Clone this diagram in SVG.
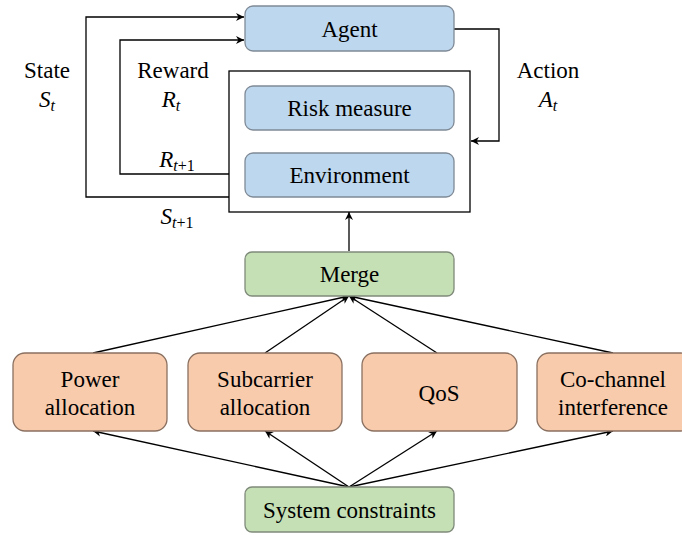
<svg xmlns="http://www.w3.org/2000/svg" width="682" height="535" viewBox="0 0 682 535">
<style>
.t{font-family:"Liberation Serif","Times New Roman",Times,"DejaVu Serif",serif;font-size:23px;fill:#000;text-anchor:middle}
.s{font-size:16px}
.blue{fill:#bdd7ee;stroke:#7f8a96;stroke-width:1.3}
.org{fill:#f8cbad;stroke:#8a7060;stroke-width:1.3}
.grn{fill:#c5e0b4;stroke:#7f8a7a;stroke-width:1.3}
.ln{fill:none;stroke:#000;stroke-width:1.3}
.it{font-style:italic}
</style>
<defs>
<marker id="ah" viewBox="0 0 10 10" refX="10" refY="5" markerWidth="8" markerHeight="8" markerUnits="userSpaceOnUse" orient="auto">
<path d="M0,0 L10,5 L0,10 L3,5 Z" fill="#000"/>
</marker>
</defs>
<g id="connectors">
<polyline class="ln" points="229,197 86,197 86,17 244,17" marker-end="url(#ah)"/>
<polyline class="ln" points="229,174 120,174 120,40 244,40" marker-end="url(#ah)"/>
<polyline class="ln" points="454,29 499,29 499,141 471,141" marker-end="url(#ah)"/>
<line class="ln" x1="349" y1="130" x2="349" y2="152" marker-end="url(#ah)"/>
<line class="ln" x1="349" y1="251" x2="349" y2="212" marker-end="url(#ah)"/>
<line class="ln" x1="93" y1="353" x2="349" y2="296" marker-end="url(#ah)"/>
<line class="ln" x1="265" y1="353" x2="349" y2="296" marker-end="url(#ah)"/>
<line class="ln" x1="437" y1="353" x2="349" y2="296" marker-end="url(#ah)"/>
<line class="ln" x1="613" y1="353" x2="349" y2="296" marker-end="url(#ah)"/>
<line class="ln" x1="349" y1="487" x2="93" y2="431" marker-end="url(#ah)"/>
<line class="ln" x1="349" y1="487" x2="265" y2="431" marker-end="url(#ah)"/>
<line class="ln" x1="349" y1="487" x2="437" y2="431" marker-end="url(#ah)"/>
<line class="ln" x1="349" y1="487" x2="613" y2="431" marker-end="url(#ah)"/>
</g>
<g id="labels">
<text class="t" x="47" y="78">State</text>
<text class="t it" x="47" y="107">S<tspan class="s" dy="4">t</tspan></text>
<text class="t" x="173" y="78">Reward</text>
<text class="t it" x="171" y="107">R<tspan class="s" dy="4">t</tspan></text>
<text class="t it" x="177" y="167">R<tspan class="s" dy="4">t</tspan><tspan class="s" font-style="normal">+1</tspan></text>
<text class="t it" x="177" y="224">S<tspan class="s" dy="4">t</tspan><tspan class="s" font-style="normal">+1</tspan></text>
<text class="t" x="548" y="78">Action</text>
<text class="t it" x="548" y="107">A<tspan class="s" dy="4">t</tspan></text>
</g>
<g id="agent"><rect class="blue" x="245" y="6" width="209" height="45" rx="8"/><text class="t" x="349.5" y="37">Agent</text></g>
<g id="env-container"><rect x="229" y="71" width="241" height="141" fill="#fff" stroke="#000" stroke-width="1.3"/></g>
<g id="risk"><rect class="blue" x="245" y="86" width="209" height="44" rx="8"/><text class="t" x="349.5" y="116">Risk measure</text></g>
<g id="environment"><rect class="blue" x="245" y="153" width="209" height="44" rx="8"/><text class="t" x="349.5" y="183">Environment</text></g>
<g id="merge"><rect class="grn" x="245" y="252" width="209" height="44" rx="7"/><text class="t" x="349.5" y="282">Merge</text></g>
<g id="power"><rect class="org" x="13" y="353" width="154" height="78" rx="12"/><text class="t" x="90" y="387">Power</text><text class="t" x="90" y="415">allocation</text></g>
<g id="subcarrier"><rect class="org" x="188" y="353" width="154" height="78" rx="12"/><text class="t" x="265" y="387">Subcarrier</text><text class="t" x="265" y="415">allocation</text></g>
<g id="qos"><rect class="org" x="362" y="353" width="155" height="78" rx="12"/><text class="t" x="439" y="401">QoS</text></g>
<g id="cochannel"><rect class="org" x="537" y="353" width="156" height="78" rx="12"/><text class="t" x="613" y="387">Co-channel</text><text class="t" x="613" y="415">interference</text></g>
<g id="system"><rect class="grn" x="245" y="487" width="209" height="45" rx="7"/><text class="t" x="349.5" y="518">System constraints</text></g>
</svg>
